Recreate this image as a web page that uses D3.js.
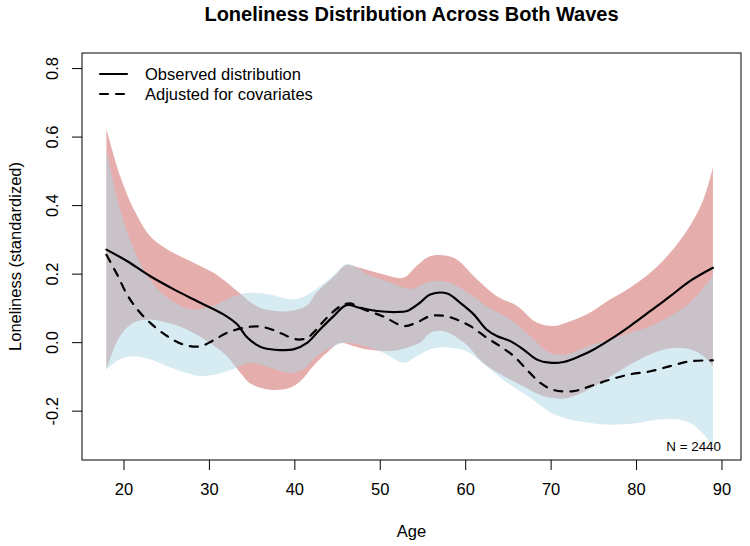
<!DOCTYPE html>
<html><head><meta charset="utf-8">
<script src="https://cdn.jsdelivr.net/npm/d3@7"></script>
<style>
html,body{margin:0;padding:0;background:#fff;}
svg{display:block;font-family:"Liberation Sans",Arial,sans-serif;}
</style></head>
<body><svg id="chart" width="750" height="546"></svg>
<script>
// ---- data ----
const xTicks = [20, 30, 40, 50, 60, 70, 80, 90];
const yTicks = [-0.2, 0, 0.2, 0.4, 0.6, 0.8];
const yTickLabels = ["-0.2", "0.0", "0.2", "0.4", "0.6", "0.8"];
const ageRange = [18, 89.43];
const yRange = [-0.3, 0.8];

// Observed distribution (solid) [age, value]
const observedLine = [[18,0.27],[20.4,0.237],[23.1,0.193],[25.9,0.154],[29,0.115],[31.7,0.081],[33.3,0.052],[34.4,0.016],[35.6,-0.008],[36.4,-0.017],[38.3,-0.023],[39.9,-0.021],[41.5,-0.002],[43,0.037],[44.6,0.076],[46.1,0.108],[47.7,0.1],[49.7,0.091],[52,0.088],[53.2,0.091],[54.7,0.115],[55.9,0.139],[57.9,0.142],[59.4,0.115],[61,0.081],[62.5,0.037],[63.7,0.018],[65.3,0.003],[66.8,-0.021],[68.4,-0.051],[69.9,-0.06],[71.5,-0.058],[73.5,-0.04],[75,-0.022],[77,0.008],[79.3,0.047],[81.7,0.091],[84,0.134],[86.3,0.178],[89,0.217]];
// Adjusted for covariates (dashed)
const adjustedLine = [[18,0.255],[19.2,0.2],[20.4,0.14],[21.6,0.096],[23.1,0.057],[25.1,0.018],[27,-0.007],[29,-0.012],[30.5,0.005],[32.1,0.027],[34.1,0.042],[35.6,0.046],[37,0.04],[38.5,0.025],[40.3,0.008],[41.5,0.012],[42.2,0.027],[43.8,0.071],[45.4,0.105],[46.5,0.113],[48,0.097],[50.4,0.075],[52.8,0.047],[54.3,0.057],[55.9,0.076],[57.5,0.077],[59,0.066],[60.6,0.047],[62.5,0.013],[64.1,-0.012],[65.7,-0.041],[67.2,-0.08],[68.8,-0.119],[70.4,-0.14],[72.7,-0.143],[74.6,-0.129],[77,-0.109],[79.3,-0.094],[81.7,-0.085],[84,-0.07],[86.3,-0.056],[89,-0.053]];
// Observed CI band (red)
const observedUpper = [[18,0.622],[19.6,0.485],[21.2,0.388],[23.1,0.31],[25.1,0.271],[28.2,0.232],[30.5,0.203],[32.1,0.174],[33.3,0.149],[35.6,0.105],[37.5,0.092],[39.5,0.091],[41.5,0.108],[42.6,0.145],[44.6,0.19],[46.1,0.225],[47.3,0.219],[50.4,0.198],[52.8,0.188],[54.3,0.222],[55.9,0.251],[58.6,0.247],[61.4,0.183],[63.7,0.134],[66.1,0.105],[68.4,0.057],[70.4,0.047],[72.3,0.061],[74.6,0.086],[77,0.125],[79.3,0.159],[81.7,0.203],[84,0.261],[86.3,0.339],[87.9,0.417],[89,0.51]];
const observedLower = [[18,-0.08],[19.6,0.018],[21.2,0.057],[23.1,0.066],[25.1,0.057],[27.4,0.037],[30.1,-0.002],[32.1,-0.041],[33.7,-0.09],[34.8,-0.12],[37.2,-0.139],[39.5,-0.133],[40.7,-0.114],[42.2,-0.07],[43.8,-0.031],[45.4,-0.002],[47,-0.012],[48.5,-0.021],[51.2,-0.026],[53.2,-0.016],[54.7,-0.002],[55.9,0.027],[57.5,0.032],[59.9,-0.002],[62.1,-0.06],[64.5,-0.099],[66.8,-0.129],[69.2,-0.158],[71.5,-0.165],[73.5,-0.15],[75,-0.13],[77,-0.1],[79.3,-0.065],[81.7,-0.035],[84,-0.018],[86.3,-0.021],[87.9,-0.041],[89,-0.07]];
// Adjusted CI band (blue)
const adjustedUpper = [[18,0.563],[19.6,0.388],[21.2,0.271],[23.1,0.183],[25.1,0.13],[27.8,0.096],[30.1,0.103],[32.9,0.133],[34.8,0.144],[37.2,0.139],[39.5,0.125],[41,0.132],[42.6,0.155],[44.6,0.195],[46.1,0.228],[47.5,0.215],[48.5,0.198],[51.2,0.174],[53.6,0.155],[55.9,0.178],[58.2,0.174],[60.6,0.139],[62.5,0.105],[65.3,0.066],[67.6,0.018],[69.9,-0.031],[71.9,-0.035],[74.6,-0.01],[77,0.008],[79.3,0.027],[81.7,0.047],[84,0.076],[86.3,0.115],[89,0.193]];
const adjustedLower = [[18,-0.08],[19.6,-0.05],[21.2,-0.041],[23.1,-0.05],[25.1,-0.07],[27.4,-0.09],[29,-0.099],[30.9,-0.094],[33.7,-0.07],[34.8,-0.06],[37.2,-0.075],[39.5,-0.09],[41,-0.08],[42.6,-0.041],[44.6,-0.012],[46.1,-0.002],[48,-0.01],[50.4,-0.031],[52.8,-0.06],[54.3,-0.041],[56,-0.02],[57.5,-0.015],[60,-0.025],[62.5,-0.07],[65,-0.12],[67.5,-0.16],[70,-0.205],[72.3,-0.226],[74.6,-0.236],[77,-0.241],[80.2,-0.236],[82.6,-0.226],[85,-0.226],[86.7,-0.241],[88.1,-0.275],[89,-0.304]];

const legendLabels = ["Observed distribution", "Adjusted for covariates"];
const titleText = "Loneliness Distribution Across Both Waves";
const xLabel = "Age";
const yLabel = "Loneliness (standardized)";
const noteText = "N = 2440";

// ---- layout ----
const svg = d3.select("#chart");
const L = 82, R = 741, T = 53, B = 460;
const ext = (r) => { const d = r[1] - r[0]; return [r[0] - 0.04 * d, r[1] + 0.04 * d]; };
const x = d3.scaleLinear().domain(ext(ageRange)).range([L, R]);
const y = d3.scaleLinear().domain(ext(yRange)).range([B, T]);
const FS = 16.5;

const line = d3.line().x(d => x(d[0])).y(d => y(d[1])).curve(d3.curveCatmullRom.alpha(0.5));
function bandPath(up, lo) {
  const a = line(up);
  const b = line(lo.slice().reverse()).replace(/^M/, "L");
  return a + b + "Z";
}

// bands
svg.append("path").attr("d", bandPath(observedUpper, observedLower))
  .attr("fill", "rgb(205,92,92)").attr("fill-opacity", 0.5).attr("stroke", "none");
svg.append("path").attr("d", bandPath(adjustedUpper, adjustedLower))
  .attr("fill", "rgb(173,216,230)").attr("fill-opacity", 0.5).attr("stroke", "none");

// lines
svg.append("path").attr("d", line(observedLine)).attr("fill", "none")
  .attr("stroke", "#000").attr("stroke-width", 2.2).attr("stroke-linecap", "round").attr("stroke-linejoin", "round");
svg.append("path").attr("d", line(adjustedLine)).attr("fill", "none")
  .attr("stroke", "#000").attr("stroke-width", 2.2).attr("stroke-dasharray", "8,8").attr("stroke-linecap", "round");

// box
svg.append("rect").attr("x", L).attr("y", T).attr("width", R - L).attr("height", B - T)
  .attr("fill", "none").attr("stroke", "#000").attr("stroke-width", 1);

// x axis
const xAxis = d3.axisBottom(x).tickValues(xTicks).tickSize(10).tickPadding(13).tickFormat(d3.format("d"));
const gx = svg.append("g").attr("transform", `translate(0,${B})`).call(xAxis);
gx.select(".domain").remove();
gx.selectAll("text").attr("font-size", FS).attr("font-family", "Liberation Sans, Arial, sans-serif").attr("fill", "#000");
gx.selectAll("line").attr("stroke", "#000");

// y axis
const yAxis = d3.axisLeft(y).tickValues(yTicks).tickSize(10).tickFormat((d, i) => yTickLabels[i]);
const gy = svg.append("g").attr("transform", `translate(${L},0)`).call(yAxis);
gy.select(".domain").remove();
gy.selectAll("line").attr("stroke", "#000");
gy.selectAll("text").attr("font-size", FS).attr("font-family", "Liberation Sans, Arial, sans-serif").attr("fill", "#000")
  .attr("x", null).attr("dy", null).attr("text-anchor", "middle")
  .attr("transform", "translate(-28,0) rotate(-90)").attr("dominant-baseline", "middle");

// titles
svg.append("text").attr("x", (L + R) / 2).attr("y", 21).attr("text-anchor", "middle")
  .attr("font-size", 20).attr("font-weight", "bold").text(titleText);
svg.append("text").attr("x", (L + R) / 2).attr("y", 537).attr("text-anchor", "middle")
  .attr("font-size", FS).text(xLabel);
svg.append("text").attr("transform", `translate(21,${(T + B) / 2}) rotate(-90)`).attr("text-anchor", "middle")
  .attr("font-size", FS).text(yLabel);

// legend
const lg = svg.append("g");
legendLabels.forEach((lab, i) => {
  const yy = 74 + i * 20;
  lg.append("line").attr("x1", 100).attr("x2", 127).attr("y1", yy).attr("y2", yy)
    .attr("stroke", "#000").attr("stroke-width", 2.2).attr("stroke-linecap", "round")
    .attr("stroke-dasharray", i === 1 ? "8,8" : null);
  lg.append("text").attr("x", 145).attr("y", yy + 6).attr("font-size", FS).text(lab);
});

// note
svg.append("text").attr("x", 721).attr("y", 451).attr("text-anchor", "end")
  .attr("font-size", 13.4).text(noteText);
</script>
</body></html>
